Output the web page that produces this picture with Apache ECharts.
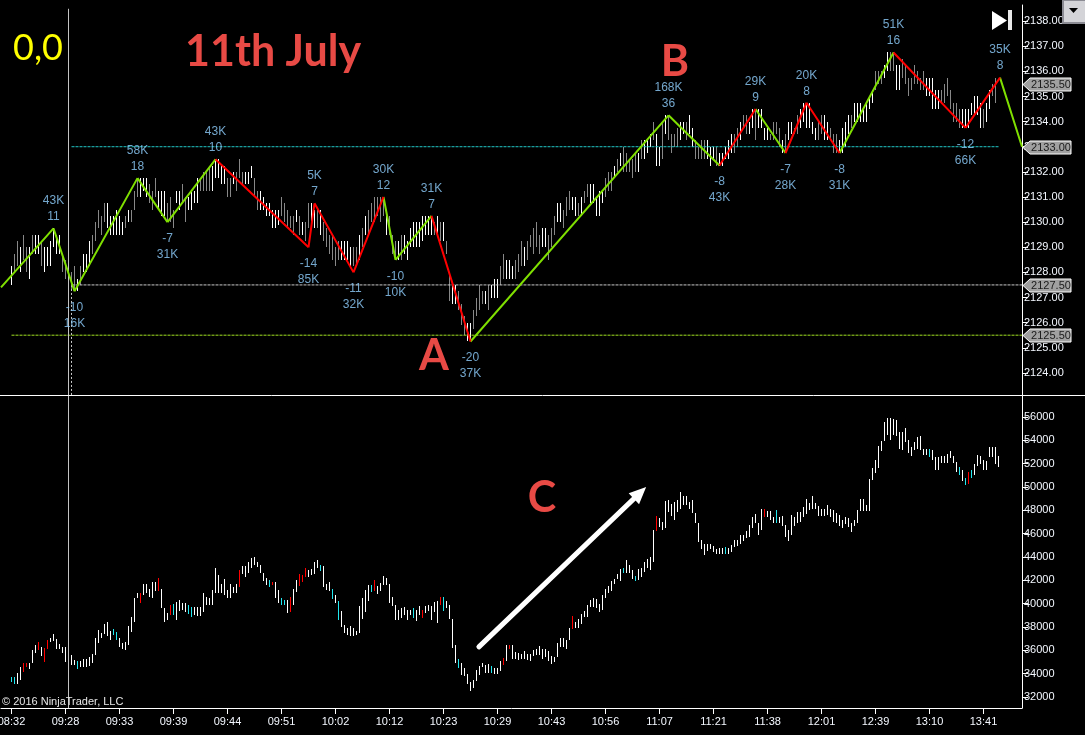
<!DOCTYPE html>
<html>
<head>
<meta charset="utf-8">
<style>html,body{margin:0;padding:0;background:#000}#c{width:1085px;height:735px}</style>
<script src="https://cdn.jsdelivr.net/npm/echarts@6/dist/echarts.min.js"></script>
</head>
<body>
<div id="c"></div>
<script>
const firstBar = 3;
const priceHigh = [2128.25,2128.75,2129.25,2129,2129.5,2129,2129,2129.5,2129.5,2129.5,2129.25,2129,2129,2129.25,2129.75,2129.5,2129.5,2128.75,2128.5,2128,2128,2128.25,2127.75,2128.25,2128.75,2128.75,2129.25,2129.5,2130,2130.5,2130.25,2130.75,2130.75,2130.25,2130.25,2130.5,2130.25,2130,2130.25,2130.5,2130.5,2131.25,2131.75,2131.75,2131.75,2131.75,2131.5,2131.25,2131.75,2131.25,2131.25,2131.25,2130.75,2131,2130.5,2131.25,2131.25,2131.5,2131,2131,2131.25,2131.25,2131.75,2131.75,2132,2132,2132.25,2132.25,2132.5,2132.5,2132.25,2132.25,2131.75,2131.75,2132,2132,2132.5,
2132,2132,2132,2132.25,2131.75,2131.25,2131.25,2131,2130.75,2130.75,2130.5,2130.5,2130.5,2131,2130.75,2130.5,2130.25,2130.25,2130.5,2130.25,2130,2130,2130.75,2130.75,2130.5,2130.5,2130.5,2130,2129.75,2129.5,2129.5,2129,2129.25,2129.25,2129.25,2129.25,2129,2129,2129,2129.5,2129.75,2130.25,2130.5,2130.75,2131,2131,2131,2131,2130.5,2130.25,2129.5,2129.25,2129.25,2129.5,2129.5,2129.25,2129.75,2130,2130,2130,2130.25,2130.25,2130.25,2130.25,2130,2130.25,2130,2130,2129.25,
2128,2127.5,2127.5,2127.25,2126.75,2126.25,2126,2126,2126.5,2127,2127.5,2127.25,2127.25,2127.5,2127.5,2127.75,2127.75,2128.25,2128.75,2128.5,2128.5,2128.25,2128.5,2128.75,2129.25,2129,2129.25,2129.5,2129.75,2130,2129.5,2129.75,2129.75,2129.5,2129.75,2130.25,2130.75,2130.75,2130.5,2131,2131.25,2131,2131,2130.75,2131,2131.25,2131.5,2131.5,2131.5,2131,2131.25,2131.25,2131.75,2132,2132,2132.25,2132.5,2132.75,2133,2132.75,2132.5,2132.5,2132.75,2132.75,2133.25,2133.25,2133.25,2133.5,2134,2133.5,2133,2134,2134.25,2134.25,2133.5,2133.5,2133.75,2134,2134,2134,2134.25,2133.75,2133.25,2133,2133.25,2133.25,2133.25,2133,2133,2133,2132.75,2132.75,2133,2133.25,2133.5,2133.5,
2133.75,2134,2134.25,2134.25,2134,2134.5,2134.5,2134.5,2134.5,2133.75,2133.75,2133.5,2134,2134,2133.75,2133.25,2133.5,2134,2134,2133.75,2134.25,2134.5,2134.75,2134.75,2134.75,2134,2133.75,2134,2134.25,2134.25,2134,2133.75,2133.5,2133.5,2133.25,2133.75,2134,2134.25,2134.25,2134.75,2134.75,2134.75,2134.5,2134.75,2135,2135.25,2136,2136,2136,2136.25,2136.75,2136.75,2136.75,2136.25,2136.25,2136.5,2136.25,2135.75,2135.75,2136.25,2136,2135.75,2136,2135.75,2135.75,2135.75,2135.25,2135.25,2135.25,2135.5,2135.75,2135.25,2134.75,2134.75,2134.5,2134.5,2134.5,2134.5,2134.75,2135,2135,2134.75,2134.5,2134.75,2135.25,2135.5,2135.75];
const priceLow = [2127.5,2128,2128.25,2128,2128.5,2128,2127.75,2128.75,2128.75,2128.75,2128.25,2128,2128.25,2128.25,2129,2128.75,2128.75,2128,2127.75,2127.5,2127.25,2127.25,2127.25,2127.5,2128,2128,2128.25,2128.75,2129.25,2129.75,2129.5,2130,2129.75,2129.5,2129.5,2129.5,2129.5,2129.5,2129.75,2130,2130,2130.5,2131,2131,2131.25,2131,2130.75,2130.5,2131,2130.5,2130.25,2130.25,2130,2130,2129.75,2130.75,2130.5,2130.75,2130,2130.5,2130.5,2130.75,2130.75,2131.25,2131.25,2131.25,2131.25,2131.25,2131.75,2131.75,2131.5,2131.5,2131,2131,2131.5,2131.25,2131.75,
2131.5,2131.5,2131.5,2131.75,2131,2130.5,2130.5,2130.5,2130.25,2130.25,2129.75,2129.75,2129.9,2130.25,2130,2129.75,2129.75,2129.5,2130,2129.5,2129.5,2129.25,2129.75,2130,2129.75,2129.75,2129.5,2129.25,2129,2128.75,2128.5,2128.25,2128.5,2128.5,2128.5,2128.5,2128.25,2128.25,2128.25,2128.5,2129,2129.5,2129.5,2130,2130,2130.25,2130,2130.25,2129.5,2129.5,2128.75,2128.5,2128.5,2128.5,2128.75,2128.5,2129,2129,2129,2129,2129.25,2129.5,2129.5,2129.5,2129.5,2129.5,2129.25,2129.25,2128.75,
2126.85,2126.75,2126.75,2126.5,2125.9,2125.5,2125.25,2125.25,2125.75,2126.25,2126.5,2126.75,2126.75,2126.5,2127,2127,2127,2127.5,2127.75,2127.75,2127.75,2127.75,2127.75,2128,2128.25,2128.25,2128.5,2129,2128.75,2129,2128.75,2129,2129,2128.5,2129,2129.5,2130,2130,2129.75,2130.25,2130.5,2130.5,2130.25,2130.25,2130.25,2130.75,2131,2130.75,2130.75,2130.25,2130.25,2130.75,2131,2131.25,2131.25,2131.75,2132,2132.25,2132,2132,2132,2131.75,2132,2132,2132.5,2132.5,2132.75,2133,2133.25,2132.25,2132.25,2132.5,2133.5,2133.25,2132.75,2133,2133,2133.25,2133.5,2133.25,2133.5,2133,2132.5,2132.5,2132.5,2132.5,2132.5,2132.25,2132.5,2132.25,2132.25,2132.25,2132.5,2132.5,2132.75,2132.75,
2133,2133.25,2133.75,2133.5,2133.5,2133.75,2133.25,2133.75,2133.75,2133.25,2133.25,2133.25,2133.25,2133.5,2133,2132.75,2132.75,2133.25,2133.5,2133.5,2133.5,2133.75,2134,2133.75,2133.75,2133.5,2133.25,2133.25,2133.5,2133.25,2133.25,2133.25,2132.75,2132.75,2132.75,2132.75,2133,2133.5,2133.75,2134,2134,2134,2134,2134,2134.5,2134.75,2135.25,2135.5,2135.5,2135.75,2136,2136,2136,2135.25,2135.25,2135.75,2135.5,2135,2135.25,2135.5,2135.5,2135.25,2135.25,2135,2135,2134.5,2134.5,2134.5,2134.75,2134.75,2135,2134.5,2134,2134,2133.75,2133.75,2133.75,2133.75,2134.25,2134.25,2134.25,2133.75,2133.75,2134,2134.5,2135,2134.75];
const priceTone = [1,0,0,1,0,0,1,0,1,1,0,1,1,1,1,1,1,0,0,0,0,0,1,0,1,1,1,0,0,0,0,0,1,1,1,1,1,1,0,1,0,0,0,1,1,1,0,0,0,1,1,1,0,0,0,1,1,0,0,1,1,1,1,0,0,0,0,1,1,1,1,1,0,0,1,0,0,
0,1,1,1,0,0,1,1,1,1,1,1,1,0,0,0,0,0,1,0,1,0,0,1,1,0,1,0,0,0,0,0,0,1,1,1,1,0,0,1,0,1,0,0,0,0,0,0,1,0,0,0,1,0,1,1,1,1,1,1,1,1,1,1,0,1,0,1,0,
0,1,1,0,0,0,1,1,0,0,0,0,1,0,1,1,1,0,0,1,1,1,0,0,0,1,0,0,0,0,0,1,1,0,0,0,1,1,0,0,0,1,1,0,1,0,0,1,1,1,1,1,0,0,0,1,0,1,0,0,0,0,0,1,0,1,1,1,0,1,1,0,1,0,0,0,0,1,1,0,1,1,0,0,0,0,1,1,1,0,1,1,1,1,1,0,0,1,
0,0,1,1,0,1,1,1,1,0,0,0,0,1,0,1,1,0,0,1,1,1,1,1,1,0,0,1,1,0,0,0,1,1,1,1,0,1,1,1,1,1,1,1,0,0,0,1,1,0,0,1,1,0,0,0,0,0,0,0,0,1,1,1,1,1,0,0,0,0,0,0,0,1,1,1,1,1,1,1,0,1,1,0,0,1,1];

const volumeHigh = [33700,33700,34100,34600,34950,34900,34950,36000,36450,36700,36250,36200,36900,37050,37400,37000,36550,36250,36250,35900,35600,35200,35100,35100,35250,35250,35400,35650,37050,37750,37450,38250,38400,37700,37850,37600,37100,36600,36700,38100,38900,40450,40950,40950,41700,41700,41300,41900,41900,42200,41300,39600,39200,39900,39950,40150,40350,40100,40100,39850,39750,39750,39750,39750,40900,40550,40450,41150,43050,42450,41700,42100,41150,41700,41450,41700,42900,43250,43250,43600,43900,44000,43600,43300,42600,42200,42000,41900,41900,41150,40450,40350,40300,40600,41250,42000,42550,42450,43050,42850,42950,43600,43750,43300,43250,41700,41850,41250,40750,40200,39350,38150,37950,38100,37900,37650,39800,40450,41200,41600,41600,42050,41500,41750,42350,42200,41700,40550,39900,39500,39600,39700,39450,39450,39600,39450,39800,39450,39800,39900,39800,40150,40200,40600,40600,40200,39900,38650,36450,35300,34950,34500,33950,33300,33450,34300,34650,34950,34750,34850,34650,34450,34500,35100,35350,36450,36500,36450,35900,35800,35700,35950,35700,35700,36050,36100,36350,36100,36100,35950,35500,35400,36600,37050,37100,36850,37900,38950,38450,38700,39100,39400,39900,40300,40450,40400,40000,40750,41300,41500,41950,42150,42550,42950,43100,43750,43300,42900,42350,42950,43100,43600,43800,44000,46300,47500,47350,47000,48800,48900,48550,48750,48850,49550,49200,49250,48750,48900,47750,46950,45450,45150,45100,45100,44950,44700,44750,44750,44850,44750,45000,45500,45500,45900,45900,46250,46750,47400,47700,46950,48100,48100,47950,47950,47450,48000,47450,47500,46750,46300,47600,47450,47900,47900,48250,49000,48600,49200,48600,48350,48100,48150,48450,48150,48000,47750,47600,47150,47450,47350,46950,47150,48000,49000,48950,48450,50700,51600,52300,53500,53950,55550,55950,55950,55800,55750,54700,54700,55100,54000,53450,53900,54250,54350,53250,53300,53300,53150,52550,52550,52650,52650,52800,53100,52650,52150,51700,51450,50750,51300,51500,51950,52750,52650,52300,52250,53450,53450,53450,52700];
const volumeLow = [33300,33100,33100,33450,34150,34600,34400,34900,35750,36000,35500,35000,36100,36750,36800,36100,36100,35750,35000,35000,34750,34750,34400,34550,34600,34600,34650,34900,35600,36600,37100,37400,37250,36850,37300,36900,36250,36100,36050,36450,37600,38450,40450,40050,40750,40950,40600,40450,41100,41100,39600,38450,38600,39050,39050,38600,39400,39450,39300,39150,38900,39050,38950,38950,39300,39900,39850,39900,40900,40900,40900,40750,40450,40450,40900,40900,41400,42550,42300,42600,43100,43300,43150,42600,41950,41600,41400,41600,40450,40050,39900,39900,39200,39300,39900,41000,41500,41900,42250,42300,42450,42550,43050,42800,41450,41150,41100,40400,40100,38600,38000,37500,37300,37250,37250,37300,37450,38700,39300,40250,41000,41100,40850,41100,41600,41600,40100,39800,38600,38600,38750,39050,38600,39050,38750,38500,39050,38800,39200,39350,38600,39300,38350,39900,39350,39600,38650,36200,34950,34500,33900,33800,33150,32550,32750,33400,33900,34550,34100,34100,34100,34000,33950,34250,34750,35100,36150,35300,35300,35200,35250,35250,35200,35100,35500,35600,35600,35250,35400,35100,34800,35000,35400,36300,36300,36150,36850,37850,37950,37950,38250,38850,38850,39750,39700,39600,39300,39450,40450,40950,41100,41650,42100,41950,42600,42650,42650,42150,41950,42000,42300,42750,43100,42900,43600,46250,46600,46350,46500,47900,47500,47200,47900,48100,48450,48450,48150,47750,46950,45300,44650,44150,44500,44650,44450,44250,44250,44300,44250,44300,44450,44900,44950,45150,45400,45600,45700,46500,46950,45850,46300,47450,47400,47150,46950,46950,46900,46700,45750,45400,45850,46650,46950,47000,47400,47700,48050,48150,48100,47550,47550,47550,47600,47400,47000,46950,46650,46500,46800,46600,46150,46650,46900,47950,47950,47950,47950,50600,51200,51600,53100,53950,54500,54000,54450,54400,53250,53150,53900,52950,52650,53150,53300,53150,52750,52750,52550,52300,51450,51450,52100,52100,52100,52500,52100,51250,51050,50550,50150,50300,50750,51050,51800,51950,51450,51450,52600,52550,51950,51700];
const volumeRed = [7,8,12,14,15,22,46,52,56,79,90,96,99,100,101,124,140,146,167,169,190,218,254,322];
const volumeCyan = [3,4,25,37,38,57,62,63,89,93,94,106,110,112,123,137,147,152,163,207,211,241,258,309,319,321,323];

const swingIndex = [-0.5,17,24,45,55,71,102,104,117,127,131,143,156,222,239,251,261,268,279,297,321,332.5,339.83];
const swingPrice = [2127.4,2129.75,2127.25,2131.75,2130,2132.5,2129,2130.75,2128,2131,2128.5,2130.25,2125.25,2134.25,2132.25,2134.5,2132.75,2134.75,2132.75,2136.75,2133.75,2135.75,2133];
const swingColor = ['g','g','g','g','g','r','r','r','r','g','g','r','g','g','r','g','r','r','g','r','r','g'];
const labelIndex = [1,2,3,4,5,6,7,8,9,10,11,12,13,14,15,16,17,18,19,20,21];
const labelLine1 = ['43K','-10','58K','-7','43K','-14','5K','-11','30K','-10','31K','-20','168K','-8','29K','-7','20K','-8','51K','-12','35K'];
const labelLine2 = ['11','16K','18','31K','10','85K','7','32K','12','10K','7','37K','36','43K','9','28K','8','31K','16','66K','8'];

const levelPrice = [2133,2127.5,2125.5];
const levelFrom = [23,23,3];
const levelTo = [332,339.83,339.83];
const levelColor = ['#22c8c8','#c8c8c8','#a0e020'];
const tagPrices = [2135.5,2127.5,2125.5,2133];

const timeLabels = ['08:32','09:28','09:33','09:39','09:44','09:51','10:02','10:12','10:23','10:29','10:43','10:56','11:07','11:21','11:38','12:01','12:39','13:10','13:41'];
const timeTicks = timeLabels.map((_, k) => 3 + 18 * k);
const priceTicks = [2124,2125,2126,2127,2128,2129,2130,2131,2132,2133,2134,2135,2136,2137,2138];
const volumeTicks = [32000,34000,36000,38000,40000,42000,44000,46000,48000,50000,52000,54000,56000];
const arrowFrom = [158.8, 36300];
const arrowTo = [212.5, 49500];

const AX = { xMin: -0.5, xMax: 339.83, pMin: 2123.12, pMax: 2138.64, vMin: 31060, vMax: 57800 };
const chart = echarts.init(document.getElementById('c'), null, { renderer: 'canvas' });

const zig = { g: [], r: [] };
for (let k = 0; k < swingColor.length; k++) {
  const t = zig[swingColor[k]];
  t.push([swingIndex[k], swingPrice[k]], [swingIndex[k + 1], swingPrice[k + 1]], ['-', '-']);
}
function drawBars(colorOf) {
  return function (params, api) {
    const a = api.coord([api.value(0), api.value(1)]);
    const b = api.coord([api.value(0), api.value(2)]);
    const x = Math.floor(a[0]) + 0.5;
    return { type: 'line', shape: { x1: x, y1: Math.round(a[1]), x2: x, y2: Math.round(b[1]) },
      style: { stroke: colorOf(api.value(3)), lineWidth: 1 } };
  };
}
const priceData = priceHigh.map((h, k) => [firstBar + k, priceLow[k], h, priceTone[k]]);
const volumeData = volumeHigh.map((h, k) => {
  const i = firstBar + k;
  return [i, volumeLow[k], h, volumeRed.includes(i) ? 2 : volumeCyan.includes(i) ? 3 : 1];
});
const toneColors = ['#888888', '#ffffff', '#ff0000', '#20e8f0'];
const labelData = labelIndex.map((s, k) => {
  const above = labelLine1[k][0] !== '-';
  return {
    value: [swingIndex[s], swingPrice[s]],
    label: { show: true, position: above ? 'top' : 'bottom', distance: above ? 3 : 8,
      formatter: labelLine1[k] + '\n' + labelLine2[k] }
  };
});
const levelSeries = levelPrice.map((p, k) => ({
  type: 'line', xAxisIndex: 0, yAxisIndex: 0, symbol: 'none', silent: true, z: 3,
  lineStyle: { color: levelColor[k], width: 1, type: [3, 1] },
  data: [[levelFrom[k], p], [levelTo[k], p]]
}));
const tickLabelStyle = { color: '#f4f8ff', fontFamily: 'Liberation Sans', fontSize: 11 };

chart.setOption({
  animation: false,
  backgroundColor: '#000',
  grid: [
    { left: 1, width: 1021, top: 5, height: 390, outerBoundsMode: 'none' },
    { left: 1, width: 1021, top: 396, height: 312, outerBoundsMode: 'none' }
  ],
  xAxis: [
    { gridIndex: 0, type: 'value', min: AX.xMin, max: AX.xMax, show: false, splitLine: { show: false } },
    { gridIndex: 1, type: 'value', min: AX.xMin, max: AX.xMax, splitLine: { show: false },
      axisLine: { show: true, onZero: false, lineStyle: { color: '#fff' } },
      axisTick: { show: true, length: 6, customValues: timeTicks, lineStyle: { color: '#fff' } },
      axisLabel: { ...tickLabelStyle, customValues: timeTicks, showMinLabel: true, showMaxLabel: true, hideOverlap: false,
        formatter: v => timeLabels[(v - 3) / 18] || '', margin: 8 } }
  ],
  yAxis: [
    { gridIndex: 0, type: 'value', position: 'right', min: AX.pMin, max: AX.pMax, splitLine: { show: false },
      axisLine: { show: true, onZero: false, lineStyle: { color: '#fff' } },
      axisTick: { show: true, length: 6, customValues: priceTicks, lineStyle: { color: '#fff' } },
      axisLabel: { ...tickLabelStyle, customValues: priceTicks, formatter: v => v.toFixed(2), margin: 2, padding: [2, 0, 0, 0] } },
    { gridIndex: 1, type: 'value', position: 'right', min: AX.vMin, max: AX.vMax, splitLine: { show: false },
      axisLine: { show: true, onZero: false, lineStyle: { color: '#fff' } },
      axisTick: { show: true, length: 6, customValues: volumeTicks, lineStyle: { color: '#fff' } },
      axisLabel: { ...tickLabelStyle, customValues: volumeTicks, formatter: v => String(v), margin: 2, padding: [2, 0, 0, 0] } }
  ],
  series: [
    { type: 'custom', name: 'Price', xAxisIndex: 0, yAxisIndex: 0, silent: true, z: 2,
      encode: { x: 0, y: [1, 2] }, renderItem: drawBars(t => toneColors[t]), data: priceData },
    { type: 'custom', name: 'Delta', xAxisIndex: 1, yAxisIndex: 1, silent: true, z: 2,
      encode: { x: 0, y: [1, 2] }, renderItem: drawBars(t => toneColors[t]), data: volumeData,
      markLine: { silent: true, symbol: ['none', 'triangle'], symbolSize: [15, 17], animation: false, label: { show: false },
        lineStyle: { color: '#fff', width: 5, type: 'solid', cap: 'round' },
        data: [[{ coord: arrowFrom }, { coord: arrowTo }]] } },
    ...levelSeries,
    { type: 'line', xAxisIndex: 0, yAxisIndex: 0, symbol: 'none', silent: true, z: 3,
      lineStyle: { color: '#c8c8c8', width: 1, type: [2, 2] },
      data: [[23, 2127.5], [23, AX.pMin]] },
    { type: 'line', xAxisIndex: 0, yAxisIndex: 0, symbol: 'none', silent: true, z: 3,
      lineStyle: { color: '#c4c4c4', width: 1 }, data: [[22, AX.pMax - 0.15], [22, AX.pMin]] },
    { type: 'line', xAxisIndex: 1, yAxisIndex: 1, symbol: 'none', silent: true, z: 3,
      lineStyle: { color: '#c4c4c4', width: 1 }, data: [[22, AX.vMax], [22, AX.vMin]] },
    { type: 'line', name: 'Up swings', xAxisIndex: 0, yAxisIndex: 0, symbol: 'none', silent: true, z: 5,
      connectNulls: false, lineStyle: { color: '#7fdf00', width: 2 }, data: zig.g },
    { type: 'line', name: 'Down swings', xAxisIndex: 0, yAxisIndex: 0, symbol: 'none', silent: true, z: 5,
      connectNulls: false, lineStyle: { color: '#ff0000', width: 2 }, data: zig.r },
    { type: 'scatter', xAxisIndex: 0, yAxisIndex: 0, symbolSize: 1, silent: true, z: 6,
      itemStyle: { color: 'transparent' },
      label: { color: '#90d0ff', fontFamily: 'Liberation Sans', fontSize: 12, lineHeight: 16 },
      labelLayout: { hideOverlap: false }, data: labelData },
    { type: 'custom', name: 'Price tags', xAxisIndex: 0, yAxisIndex: 0, silent: true, z: 8, clip: false,
      encode: { y: 1 }, data: tagPrices.map(p => [AX.xMax, p]),
      renderItem: function (params, api) {
        const c = api.coord([api.value(0), api.value(1)]);
        const x = c[0] + 1, y = Math.round(c[1]) + 0.5;
        return { type: 'group', children: [
          { type: 'polygon', shape: { points: [[x, y], [x + 7, y - 6.5], [x + 48, y - 6.5], [x + 48, y + 6.5], [x + 7, y + 6.5]] },
            style: { fill: '#a0a0a0', stroke: '#ffffff', lineWidth: 1 } },
          { type: 'text', x: x + 28, y: y + 0.5,
            style: { text: api.value(1).toFixed(2), fill: '#1a1a1a', font: '11px "Liberation Sans"', align: 'center', verticalAlign: 'middle' } }
        ] };
      } }
  ],
  graphic: [
    { type: 'line', silent: true, z: 9, shape: { x1: 0, y1: 395.5, x2: 1085, y2: 395.5 }, style: { stroke: '#fff', lineWidth: 1 } },
    { type: 'text', silent: true, z: 10, x: 13, y: 30, style: { text: '0,0', fill: '#ffff00', font: '36px Lato' } },
    { type: 'text', silent: true, z: 10, x: 185, y: 31, style: { text: '11th July', fill: '#e84a45', font: 'bold 43px Lato' } },
    { type: 'text', silent: true, z: 10, x: 434, y: 356, style: { text: 'A', fill: '#e84a45', font: 'bold 43px Lato', align: 'center', verticalAlign: 'middle' } },
    { type: 'text', silent: true, z: 10, x: 675, y: 62, style: { text: 'B', fill: '#e84a45', font: 'bold 43px Lato', align: 'center', verticalAlign: 'middle' } },
    { type: 'text', silent: true, z: 10, x: 542, y: 498, style: { text: 'C', fill: '#e84a45', font: 'bold 43px Lato', align: 'center', verticalAlign: 'middle' } },
    { type: 'text', silent: true, z: 10, x: 2, y: 696, style: { text: '\u00a9 2016 NinjaTrader, LLC', fill: '#e8e8e8', font: '11px "Liberation Sans"' } },
    { type: 'polygon', silent: true, z: 10, shape: { points: [[992, 11], [1007, 20.5], [992, 30]] }, style: { fill: '#fff' } },
    { type: 'rect', silent: true, z: 10, shape: { x: 1008, y: 10, width: 4, height: 20 }, style: { fill: '#e8e8e8' } },
    { type: 'rect', silent: true, z: 10, shape: { x: 1063, y: 0, width: 23, height: 23 }, style: { fill: '#d4d4d8', stroke: '#8c8c94', lineWidth: 2 } },
    { type: 'polygon', silent: true, z: 11, shape: { points: [[1069, 8], [1078, 8], [1073.5, 13]] }, style: { fill: '#000' } }
  ]
});
</script>
</body>
</html>
